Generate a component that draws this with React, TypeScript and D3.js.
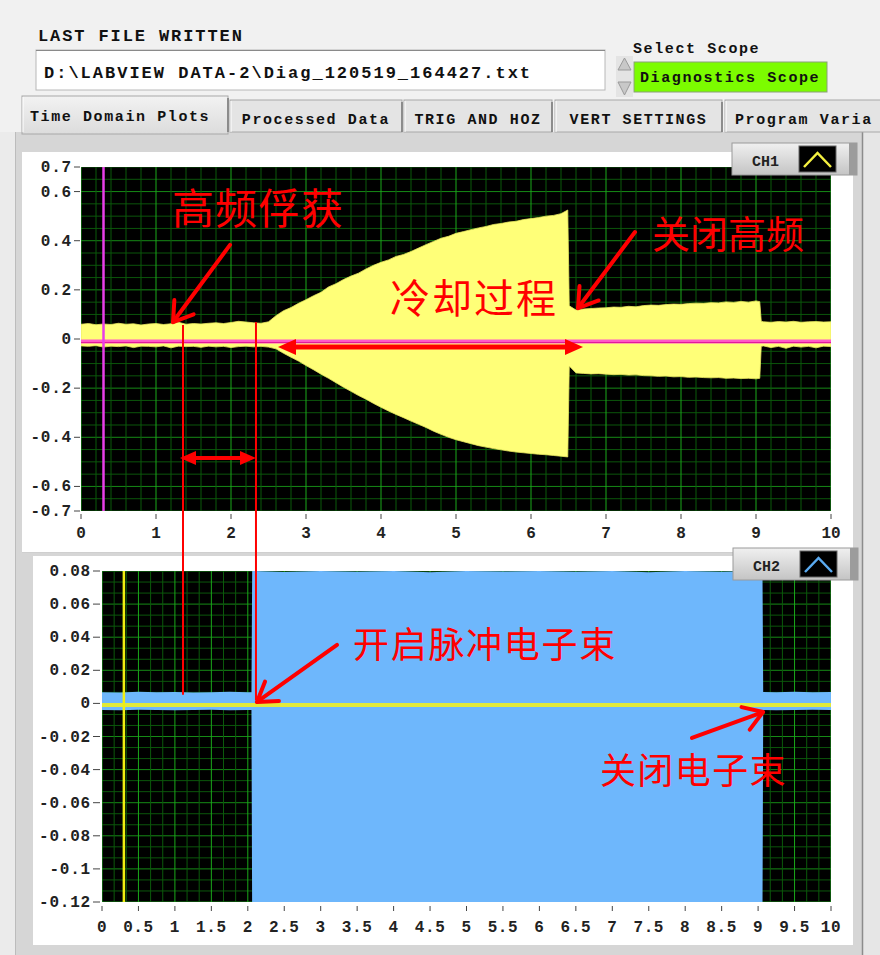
import React from "react";
import * as d3 from "d3";

// ---------- CH1 (RF signal envelope) ----------
const ch1Time = [
  0.0, 0.1, 0.2, 0.3, 0.4, 0.5, 0.6, 0.7, 0.8, 0.9,
  1.0, 1.1, 1.2, 1.3, 1.4, 1.5, 1.6, 1.7, 1.8, 1.9,
  2.0, 2.1, 2.2, 2.3, 2.4, 2.5, 2.6, 2.7, 2.8, 2.9,
  3.0, 3.1, 3.2, 3.3, 3.4, 3.5, 3.6, 3.7, 3.8, 3.9,
  4.0, 4.1, 4.2, 4.3, 4.4, 4.5, 4.6, 4.7, 4.8, 4.9,
  5.0, 5.1, 5.2, 5.3, 5.4, 5.5, 5.6, 5.7, 5.8, 5.9,
  6.0, 6.1, 6.2, 6.3, 6.4, 6.49, 6.51, 6.6, 6.7, 6.8, 6.9,
  7.0, 7.1, 7.2, 7.3, 7.4, 7.5, 7.6, 7.7, 7.8, 7.9,
  8.0, 8.1, 8.2, 8.3, 8.4, 8.5, 8.6, 8.7, 8.8, 8.9,
  9.0, 9.05, 9.07, 9.1, 9.2, 9.3, 9.4, 9.5, 9.6, 9.7, 9.8, 9.9, 10.0,
];
const ch1Upper = [
  0.060, 0.063, 0.058, 0.061, 0.059, 0.064, 0.060, 0.062, 0.057, 0.061,
  0.063, 0.059, 0.062, 0.068, 0.060, 0.063, 0.061, 0.064, 0.066, 0.063,
  0.067, 0.072, 0.069, 0.066, 0.064, 0.070, 0.095, 0.115, 0.128, 0.145,
  0.160, 0.176, 0.190, 0.212, 0.225, 0.242, 0.256, 0.268, 0.285, 0.300,
  0.312, 0.322, 0.336, 0.344, 0.356, 0.370, 0.384, 0.397, 0.410, 0.418,
  0.430, 0.437, 0.445, 0.452, 0.458, 0.466, 0.470, 0.476, 0.479, 0.486,
  0.490, 0.494, 0.500, 0.503, 0.510, 0.525, 0.135, 0.118, 0.122, 0.124, 0.126,
  0.127, 0.130, 0.129, 0.133, 0.131, 0.136, 0.138, 0.137, 0.140, 0.142,
  0.141, 0.144, 0.146, 0.145, 0.148, 0.147, 0.151, 0.149, 0.153, 0.150,
  0.155, 0.152, 0.072, 0.070, 0.068, 0.071, 0.069, 0.072, 0.068, 0.070, 0.071, 0.069, 0.070,
];
const ch1Lower = [
  -0.028, -0.030, -0.027, -0.033, -0.029, -0.031, -0.028, -0.035, -0.029, -0.030,
  -0.032, -0.028, -0.036, -0.029, -0.031, -0.030, -0.034, -0.029, -0.032, -0.030,
  -0.035, -0.031, -0.029, -0.032, -0.030, -0.033, -0.040, -0.058, -0.074, -0.090,
  -0.108, -0.125, -0.143, -0.160, -0.178, -0.196, -0.213, -0.230, -0.245, -0.262,
  -0.278, -0.293, -0.307, -0.320, -0.334, -0.347, -0.360, -0.375, -0.388, -0.400,
  -0.410, -0.418, -0.426, -0.434, -0.440, -0.446, -0.451, -0.456, -0.460, -0.463,
  -0.466, -0.469, -0.471, -0.474, -0.477, -0.480, -0.110, -0.138, -0.140, -0.142, -0.141,
  -0.143, -0.145, -0.144, -0.147, -0.146, -0.149, -0.150, -0.152, -0.151, -0.154,
  -0.153, -0.156, -0.155, -0.157, -0.158, -0.157, -0.160, -0.159, -0.161, -0.160,
  -0.162, -0.160, -0.030, -0.028, -0.035, -0.030, -0.038, -0.029, -0.033, -0.030, -0.036, -0.029, -0.031,
];
const ch1BaseLevel = -0.01;
const ch1Cursor = 0.3;
const ch1YTicks = [0.7, 0.6, 0.4, 0.2, 0, -0.2, -0.4, -0.6, -0.7];
const ch1XTicks = [0, 1, 2, 3, 4, 5, 6, 7, 8, 9, 10];

// ---------- CH2 (electron beam) ----------
const ch2Time = [
  0, 0.25, 0.5, 0.75, 1.0, 1.25, 1.5, 1.75, 2.0, 2.05,
  2.06, 2.5, 3.0, 3.5, 4.0, 4.5, 5.0, 5.5, 6.0, 6.5, 7.0, 7.5, 8.0, 8.5, 9.0, 9.06,
  9.07, 9.25, 9.5, 9.75, 10.0,
];
const ch2Upper = [
  0.0068, 0.0066, 0.0070, 0.0067, 0.0069, 0.0066, 0.0068, 0.0070, 0.0067, 0.0068,
  0.0800, 0.0794, 0.0800, 0.0796, 0.0800, 0.0793, 0.0800, 0.0797, 0.0800, 0.0795, 0.0800, 0.0793, 0.0800, 0.0796, 0.0800, 0.0800,
  0.0069, 0.0067, 0.0070, 0.0068, 0.0069,
];
const ch2Lower = [
  -0.0040, -0.0041, -0.0039, -0.0040, -0.0042, -0.0040, -0.0039, -0.0041, -0.0040, -0.0040,
  -0.1300, -0.1300, -0.1300, -0.1300, -0.1300, -0.1300, -0.1300, -0.1300, -0.1300, -0.1300, -0.1300, -0.1300, -0.1300, -0.1300, -0.1300, -0.1300,
  -0.0040, -0.0041, -0.0040, -0.0039, -0.0040,
];
const ch2BaseLevel = -0.001;
const ch2Cursor = 0.3;
const ch2YTicks = [0.08, 0.06, 0.04, 0.02, 0, -0.02, -0.04, -0.06, -0.08, -0.1, -0.12];
const ch2XTicks = [0, 0.5, 1, 1.5, 2, 2.5, 3, 3.5, 4, 4.5, 5, 5.5, 6, 6.5, 7, 7.5, 8, 8.5, 9, 9.5, 10];

// ---------- UI text ----------
const tabLabels = ["Time Domain Plots", "Processed Data", "TRIG AND HOZ", "VERT SETTINGS", "Program Varia"];
const filePath = "D:\\LABVIEW DATA-2\\Diag_120519_164427.txt";

const MONO = "'Liberation Mono', 'DejaVu Sans Mono', monospace";
const CJK = "'Noto Sans CJK SC', 'Noto Sans CJK JP', sans-serif";
const RED = "#ff0000";

const fmt = (v: number) => String(+v.toFixed(3));

function Arrow({ ax, ay, bx, by, w = 4, len = 22, ang = 32 }: any) {
  const a = Math.atan2(by - ay, bx - ax);
  const r = (ang * Math.PI) / 180;
  const p1 = [bx - len * Math.cos(a - r), by - len * Math.sin(a - r)];
  const p2 = [bx - len * Math.cos(a + r), by - len * Math.sin(a + r)];
  return (
    <g stroke={RED} strokeWidth={w} strokeLinecap="round" fill="none">
      <line x1={ax} y1={ay} x2={bx} y2={by} />
      <polyline points={`${p1[0]},${p1[1]} ${bx},${by} ${p2[0]},${p2[1]}`} strokeLinejoin="round" />
    </g>
  );
}

function DoubleArrow({ xa, xb, y, w = 4, len = 16, half = 7 }: any) {
  return (
    <g fill={RED}>
      <line x1={xa + len - 2} y1={y} x2={xb - len + 2} y2={y} stroke={RED} strokeWidth={w} />
      <polygon points={`${xa},${y} ${xa + len},${y - half} ${xa + len},${y + half}`} />
      <polygon points={`${xb},${y} ${xb - len},${y - half} ${xb - len},${y + half}`} />
    </g>
  );
}

function Legend({ x, y, label, color }: any) {
  return (
    <g transform={`translate(${x},${y})`}>
      <rect x={0} y={0} width={125} height={32} fill="url(#legGrad)" stroke="#9a9a9a" />
      <rect x={117} y={0} width={8} height={32} fill="#9c9c9c" />
      <text x={20} y={23} fontFamily={MONO} fontWeight="bold" fontSize={15} fill="#222">{label}</text>
      <rect x={67} y={3} width={37} height={26} fill="#000" stroke="#666" />
      <polyline points="72,24 85.5,10 99,24" fill="none" stroke={color} strokeWidth={2.5} />
    </g>
  );
}

export default function App() {
  const x1 = d3.scaleLinear().domain([0, 10]).range([81, 831]);
  const y1 = d3.scaleLinear().domain([-0.7, 0.7]).range([511, 167]);
  const x2 = d3.scaleLinear().domain([0, 10]).range([102, 831]);
  const y2 = d3.scaleLinear().domain([-0.12, 0.08]).range([902, 571]);

  const area1 = d3
    .area<number>()
    .x((_, i) => x1(ch1Time[i]))
    .y0((_, i) => y1(ch1Lower[i]))
    .y1((d) => y1(d));
  const area2 = d3
    .area<number>()
    .x((_, i) => x2(ch2Time[i]))
    .y0((_, i) => y2(ch2Lower[i]))
    .y1((d) => y2(d));

  const g1V = d3.range(0, 51).map((k) => k * 0.2);
  const g1H = d3.range(-14, 15).map((k) => k * 0.05);
  const g2V = d3.range(0, 61).map((k) => k / 6);
  const g2H = d3.range(0, 31).map((k) => -0.12 + (k * 0.02) / 3);

  const isInt = (v: number, step: number) => Math.abs(v / step - Math.round(v / step)) < 1e-6;

  const tabs = [
    { x: 22, w: 206 },
    { x: 230, w: 172 },
    { x: 404, w: 148 },
    { x: 555, w: 167 },
    { x: 725, w: 160 },
  ];

  const capLineA = 1.36;
  const capLineB = 2.333;

  return (
    <svg
      width={880}
      height={955}
      style={{ position: "absolute", left: 0, top: 0, display: "block" }}
    >
      <defs>
        <clipPath id="clip1">
          <rect x={81} y={167} width={750} height={344} />
        </clipPath>
        <clipPath id="clip2">
          <rect x={102} y={571} width={729} height={331} />
        </clipPath>
        <clipPath id="pageClip">
          <rect x={0} y={0} width={880} height={955} />
        </clipPath>
        <linearGradient id="legGrad" x1="0" x2="0" y1="0" y2="1">
          <stop offset="0" stopColor="#f0f0f0" />
          <stop offset="1" stopColor="#c4c4c4" />
        </linearGradient>
        <linearGradient id="tabGrad" x1="0" x2="0" y1="0" y2="1">
          <stop offset="0" stopColor="#f2f2f2" />
          <stop offset="1" stopColor="#dcdcdc" />
        </linearGradient>
      </defs>

      <rect x={0} y={0} width={880} height={955} fill="#f1f1f1" />

      {/* header */}
      <text x={38} y={41} fontFamily={MONO} fontWeight="bold" fontSize={17} letterSpacing={1.9} fill="#111">
        LAST FILE WRITTEN
      </text>
      <rect x={36} y={50} width={569} height={40} fill="#fff" stroke="#b8b8b8" />
      <line x1={36} y1={50.5} x2={605} y2={50.5} stroke="#8a8a8a" />
      <text x={44} y={78} fontFamily={MONO} fontWeight="bold" fontSize={17} letterSpacing={2} fill="#111">
        {filePath}
      </text>
      <text x={633} y={53} fontFamily={MONO} fontWeight="bold" fontSize={15} letterSpacing={1.6} fill="#111">
        Select Scope
      </text>
      <rect x={616} y={56} width={17} height={41} fill="#e4e4e4" />
      <polygon points="618,70 624.5,58 631,70" fill="#c8c8c8" stroke="#9a9a9a" />
      <polygon points="618,82 624.5,95 631,82" fill="#c8c8c8" stroke="#9a9a9a" />
      <rect x={634} y={62} width={193} height={30} fill="#7cfc00" stroke="#8aa07a" />
      <text x={640} y={82} fontFamily={MONO} fontWeight="bold" fontSize={15} letterSpacing={1.6} fill="#111">
        Diagnostics Scope
      </text>

      {/* tab content panel */}
      <rect x={15} y={132} width={847} height={823} fill="#d6d6d6" />
      <rect x={0} y={132} width={15} height={823} fill="#ebebeb" />
      <line x1={15.5} y1={132} x2={15.5} y2={955} stroke="#bcbcbc" />
      <rect x={862} y={132} width={18} height={823} fill="#e6e6e6" />
      <line x1={862.5} y1={132} x2={862.5} y2={955} stroke="#8c8c8c" strokeWidth={1.5} />

      {/* tabs */}
      <g clipPath="url(#pageClip)">
        {tabs.map((t, i) => {
          const sel = i === 0;
          const top = sel ? 96 : 100;
          return (
            <g key={i}>
              <rect
                x={t.x}
                y={top}
                width={t.w}
                height={sel ? 38 : 32}
                fill={sel ? "url(#tabGrad)" : "#e4e4e4"}
                stroke="#a8a8a8"
              />
              <line x1={t.x + t.w} y1={top + 2} x2={t.x + t.w} y2={132} stroke="#777" strokeWidth={1.5} />
              <line x1={t.x + 1} y1={top + 1} x2={t.x + 1} y2={132} stroke="#fff" />
              <text
                x={t.x + (sel ? 8 : i === 4 ? 10 : t.w / 2)}
                y={sel ? 121 : 124}
                textAnchor={sel || i === 4 ? "start" : "middle"}
                fontFamily={MONO}
                fontWeight="bold"
                fontSize={15}
                letterSpacing={1.6}
                fill="#111"
              >
                {tabLabels[i]}
              </text>
            </g>
          );
        })}
      </g>

      {/* white panels */}
      <rect x={22} y={152} width={831} height={400} fill="#fff" />
      <rect x={33} y={556} width={820} height={389} fill="#fff" />
      <line x1={22} y1={552.5} x2={853} y2={552.5} stroke="#cfcfcf" />

      {/* ================= CH1 plot ================= */}
      <rect x={81} y={167} width={750} height={344} fill="#000" />
      <g clipPath="url(#clip1)">
        {g1H.map((v, i) => (
          <line key={"h" + i} x1={81} x2={831} y1={y1(v)} y2={y1(v)} stroke={isInt(v, 0.2) ? "#168a16" : "#0b560b"} strokeWidth={1} />
        ))}
        {g1V.map((v, i) => (
          <line key={"v" + i} x1={x1(v)} x2={x1(v)} y1={167} y2={511} stroke={isInt(v, 1) ? "#1aa81a" : "#0b5a0b"} strokeWidth={1} />
        ))}
        <path d={area1(ch1Upper) || ""} fill="#ffff78" stroke="#e8e860" strokeWidth={0.8} />
        <line x1={81} x2={831} y1={y1(ch1BaseLevel)} y2={y1(ch1BaseLevel)} stroke="#ff5ac8" strokeWidth={4} />
        <line x1={81} x2={831} y1={y1(ch1BaseLevel) + 1} y2={y1(ch1BaseLevel) + 1} stroke="#e0169a" strokeWidth={1} />
        <line x1={x1(ch1Cursor)} x2={x1(ch1Cursor)} y1={167} y2={511} stroke="#e83ee8" strokeWidth={2.5} />
      </g>
      {ch1YTicks.map((v, i) => (
        <g key={"y1" + i}>
          <line x1={74} x2={80} y1={y1(v)} y2={y1(v)} stroke="#444" />
          <text x={72} y={y1(v) + 5} textAnchor="end" fontFamily={MONO} fontWeight="bold" fontSize={16} letterSpacing={0.8} fill="#222">
            {fmt(v)}
          </text>
        </g>
      ))}
      {ch1XTicks.map((v, i) => (
        <g key={"x1" + i}>
          <line x1={x1(v)} x2={x1(v)} y1={514} y2={519} stroke="#444" />
          <text x={x1(v)} y={538} textAnchor="middle" fontFamily={MONO} fontWeight="bold" fontSize={16} fill="#222">
            {fmt(v)}
          </text>
        </g>
      ))}

      {/* ================= CH2 plot ================= */}
      <rect x={102} y={571} width={729} height={331} fill="#000" />
      <g clipPath="url(#clip2)">
        {g2H.map((v, i) => (
          <line key={"h" + i} x1={102} x2={831} y1={y2(v)} y2={y2(v)} stroke={i % 3 === 0 ? "#168a16" : "#0b560b"} strokeWidth={1} />
        ))}
        {g2V.map((v, i) => (
          <line key={"v" + i} x1={x2(v)} x2={x2(v)} y1={571} y2={902} stroke={i % 3 === 0 ? "#1aa81a" : "#0b5a0b"} strokeWidth={1} />
        ))}
        <path d={area2(ch2Upper) || ""} fill="#6eb7fc" />
        <line x1={102} x2={831} y1={y2(ch2BaseLevel)} y2={y2(ch2BaseLevel)} stroke="#e2ea3a" strokeWidth={4} />
        <line x1={x2(ch2Cursor)} x2={x2(ch2Cursor)} y1={571} y2={902} stroke="#f0ee10" strokeWidth={2.5} />
      </g>
      {ch2YTicks.map((v, i) => (
        <g key={"y2" + i}>
          <line x1={93} x2={100} y1={y2(v)} y2={y2(v)} stroke="#444" />
          <text x={91} y={y2(v) + 5} textAnchor="end" fontFamily={MONO} fontWeight="bold" fontSize={16} letterSpacing={0.8} fill="#222">
            {fmt(v)}
          </text>
        </g>
      ))}
      {ch2XTicks.map((v, i) => (
        <g key={"x2" + i}>
          <line x1={x2(v)} x2={x2(v)} y1={906} y2={911} stroke="#444" />
          <text x={x2(v)} y={932} textAnchor="middle" fontFamily={MONO} fontWeight="bold" fontSize={16} letterSpacing={0.6} fill="#222">
            {fmt(v)}
          </text>
        </g>
      ))}

      {/* legends */}
      <Legend x={732} y={143} label="CH1" color="#f4f040" />
      <Legend x={733} y={548} label="CH2" color="#5aaaf0" />

      {/* ================= annotations ================= */}
      <line x1={x1(capLineA)} x2={x1(capLineA)} y1={y1(0.057)} y2={y2(0.0052)} stroke={RED} strokeWidth={2} />
      <line x1={x1(capLineB)} x2={x1(capLineB)} y1={y1(0.069)} y2={y2(0.002)} stroke={RED} strokeWidth={2} />
      <DoubleArrow xa={x1(1.32)} xb={x1(2.333)} y={y1(-0.484)} w={4} len={16} half={7} />
      <DoubleArrow xa={x1(2.627)} xb={x1(6.693)} y={y1(-0.0326)} w={5} len={18} half={8} />

      <text x={x1(1.213)} y={y1(0.468)} fontFamily={CJK} fontSize={42} letterSpacing={1} fill={RED}>高频俘获</text>
      <Arrow ax={x1(1.987)} ay={y1(0.383)} bx={x1(1.227)} by={y1(0.069)} w={4} len={22} ang={33} />

      <text x={x1(7.613)} y={y1(0.37)} fontFamily={CJK} fontSize={38} fill={RED}>关闭高频</text>
      <Arrow ax={x1(7.387)} ay={y1(0.4355)} bx={x1(6.627)} by={y1(0.126)} w={4} len={22} ang={33} />

      <text x={x1(4.12)} y={y1(0.106)} fontFamily={CJK} fontSize={40} letterSpacing={2} fill={RED}>冷却过程</text>

      <text x={x2(3.443)} y={y2(0.0274)} fontFamily={CJK} fontSize={36} letterSpacing={1.7} fill={RED}>开启脉冲电子束</text>
      <Arrow ax={x2(3.224)} ay={y2(0.0353)} bx={x2(2.126)} by={y2(0.00085)} w={4} len={22} ang={33} />

      <text x={x2(6.831)} y={y2(-0.0486)} fontFamily={CJK} fontSize={36} letterSpacing={1.4} fill={RED}>关闭电子束</text>
      <Arrow ax={x2(8.093)} ay={y2(-0.0209)} bx={x2(9.067)} by={y2(-0.0052)} w={4} len={22} ang={33} />
    </svg>
  );
}
